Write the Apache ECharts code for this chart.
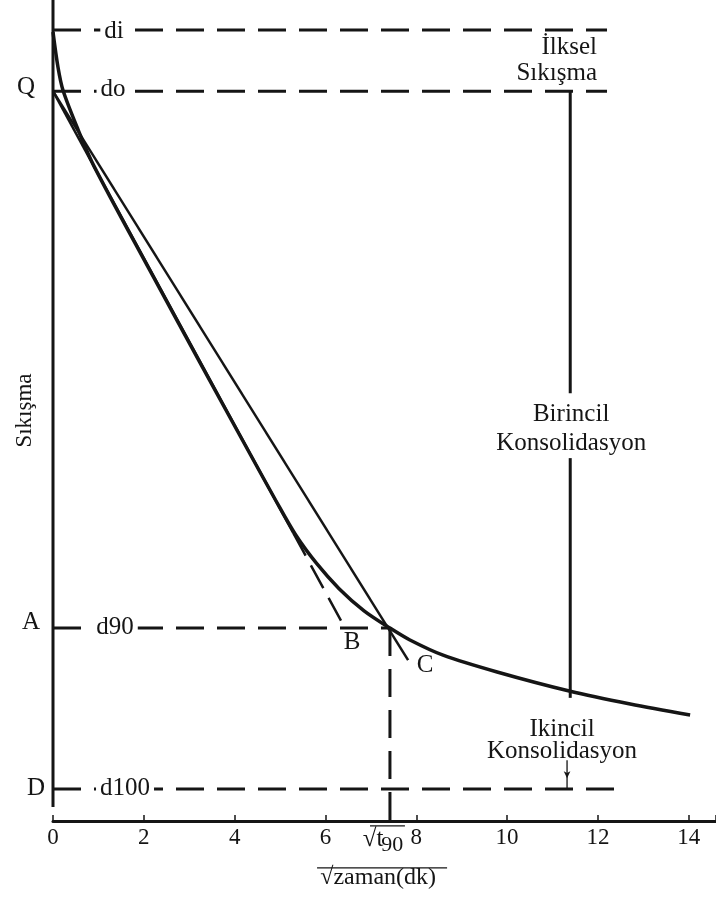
<!DOCTYPE html>
<html>
<head>
<meta charset="utf-8">
<script src="https://cdn.jsdelivr.net/npm/echarts@6/dist/echarts.min.js"></script>
<style>html,body{margin:0;padding:0;background:#fff}#c{width:716px;height:899px}</style>
</head>
<body>
<div id="c"></div>
<script>
// ---- data (x: sqrt time, y: compression, arbitrary units, downward) ----
const xTickLabels = [0, 2, 4, 6, 8, 10, 12, 14];
const levelNames = ['di', 'do', 'd90', 'd100'];
const levelY = [3.65, 11.1, 76.5, 96.1];
const levelEndX = [12.2, 12.2, 7.42, 12.38];
const t90 = 7.42;
const curveX = [0, 0.11, 0.22, 0.53, 0.9, 2.14, 3.24, 4.34, 4.9, 5.35, 5.8, 6.3, 6.85, 7.42, 7.86, 8.59, 9.78, 11.39, 12.71, 14.03];
const curveY = [3.9, 8.2, 11.0, 15.5, 20.2, 33.0, 44.2, 55.3, 60.9, 65.2, 68.6, 71.7, 74.4, 76.5, 77.95, 79.8, 81.85, 84.2, 85.75, 87.1];
const tangentX = [0, 5.29, 6.43];
const tangentY = [11.1, 64.9, 76.5];
const line115X = [0, 7.82];
const line115Y = [11.1, 80.4];
const primaryX = 11.39;
const primaryY = [11.1, 47.9, 55.8, 85.0];
const secondaryX = 11.32;
const secondaryY = [92.6, 96.1];
const yAxisEnd = 98.3;
const labelTexts = ['Q', 'A', 'D', 'di', 'do', 'd90', 'd100', 'B', 'C', 'İlksel\nSıkışma', 'Birincil\nKonsolidasyon', 'Ikincil\nKonsolidasyon', '√t', '90', '√zaman(dk)'];
const labelX = [-0.595, -0.485, -0.374, 1.344, 1.322, 1.366, 1.586, 6.586, 8.194, 11.98, 11.41, 11.21, 7.05, 7.47, 7.16];
const labelY = [10.6, 75.8, 96.0, 3.78, 10.84, 76.4, 96.0, 78.3, 81.0, 7.31, 52.25, 90.13, 102.2, 102.9, 106.9];
const overlineX = [[5.815, 8.678], [6.98, 7.75]];
const overlineY = [105.7, 100.6];

const FONT = 'Liberation Serif';
const INK = '#151515';
const DASH = [28, 13];

const pairs = (xs, ys) => xs.map((x, i) => [x, ys[i]]);
function seg(data, opts) {
  return Object.assign({
    type: 'line', data: data, symbol: 'none', clip: false, silent: true,
    lineStyle: { color: INK, width: 3 }
  }, opts || {});
}

const series = [];
series.push(seg([[0, 0], [0, yAxisEnd]], { lineStyle: { color: INK, width: 3 } }));
levelY.forEach((y, i) => {
  series.push(seg([[0, y], [levelEndX[i], y]], { lineStyle: { color: INK, width: 3, type: DASH } }));
});
series.push(seg([[t90, levelY[2]], [t90, 100.5]], { lineStyle: { color: INK, width: 3, type: DASH } }));
series.push(seg([[tangentX[0], tangentY[0]], [tangentX[1], tangentY[1]]], { lineStyle: { color: INK, width: 2.5 } }));
series.push(seg([[tangentX[1], tangentY[1]], [tangentX[2], tangentY[2]]], { lineStyle: { color: INK, width: 2.5, type: [26, 11] } }));
series.push(seg(pairs(line115X, line115Y), { lineStyle: { color: INK, width: 2.5 } }));
series.push(seg([[primaryX, primaryY[0]], [primaryX, primaryY[1]]], { lineStyle: { color: INK, width: 3 } }));
series.push(seg([[primaryX, primaryY[2]], [primaryX, primaryY[3]]], { lineStyle: { color: INK, width: 3 } }));
series.push(seg([
  { value: [secondaryX, secondaryY[0]], symbol: 'none' },
  { value: [secondaryX, secondaryY[1] - 1.3], symbol: 'arrow', symbolSize: [5, 7], symbolRotate: 180 },
  { value: [secondaryX, secondaryY[1]], symbol: 'none' }
], { showSymbol: true, symbol: 'none', itemStyle: { color: INK }, lineStyle: { color: INK, width: 1.3 } }));
overlineX.forEach((xs, i) => {
  series.push(seg([[xs[0], overlineY[i]], [xs[1], overlineY[i]]], { lineStyle: { color: INK, width: 1.3 } }));
});
series.push(seg(pairs(curveX, curveY), { smooth: 0.3, lineStyle: { color: INK, width: 3.5 } }));

const chart = echarts.init(document.getElementById('c'));
chart.setOption({
  animation: false,
  backgroundColor: '#fff',
  grid: { left: 53, right: 0, top: 0, bottom: 78, containLabel: false, outerBoundsMode: 'none' },
  xAxis: {
    type: 'value', min: 0, max: 14.6, interval: 2,
    axisLine: { onZero: false, lineStyle: { color: INK, width: 3 } },
    axisTick: { inside: true, length: 6, lineStyle: { color: INK, width: 1.5 } },
    splitLine: { show: false },
    axisLabel: {
      fontFamily: FONT, fontSize: 23, color: INK, margin: 5,
      formatter: v => (xTickLabels.indexOf(v) >= 0 ? String(v) : '')
    }
  },
  yAxis: {
    type: 'value', min: 0, max: 100, inverse: true,
    axisLine: { show: false }, axisTick: { show: false }, axisLabel: { show: false }, splitLine: { show: false },
    name: 'Sıkışma', nameLocation: 'middle', nameGap: 17, nameRotate: 90,
    nameTextStyle: { fontFamily: FONT, fontSize: 23, color: INK }
  },
  series: series
});

// text annotations positioned through the chart's own scales
const extra = {
  3: { backgroundColor: '#fff', padding: [0, 4] },
  4: { backgroundColor: '#fff', padding: [0, 4] },
  5: { backgroundColor: '#fff', padding: [0, 4] },
  6: { backgroundColor: '#fff', padding: [0, 4] },
  9: { align: 'right', lineHeight: 26 },
  10: { lineHeight: 29 },
  11: { lineHeight: 22 },
  13: { fontSize: 22 },
  14: { fontSize: 24 }
};
const graphics = labelTexts.map((t, i) => {
  const p = chart.convertToPixel({ gridIndex: 0 }, [labelX[i], labelY[i]]);
  const e = extra[i] || {};
  return {
    type: 'text', x: p[0], y: p[1], z: 100, silent: true,
    style: {
      text: t, fill: INK, fontFamily: FONT, fontSize: e.fontSize || 25,
      align: e.align || 'center', verticalAlign: 'middle',
      lineHeight: e.lineHeight, backgroundColor: e.backgroundColor, padding: e.padding
    }
  };
});
chart.setOption({ graphic: graphics });
</script>
</body>
</html>
